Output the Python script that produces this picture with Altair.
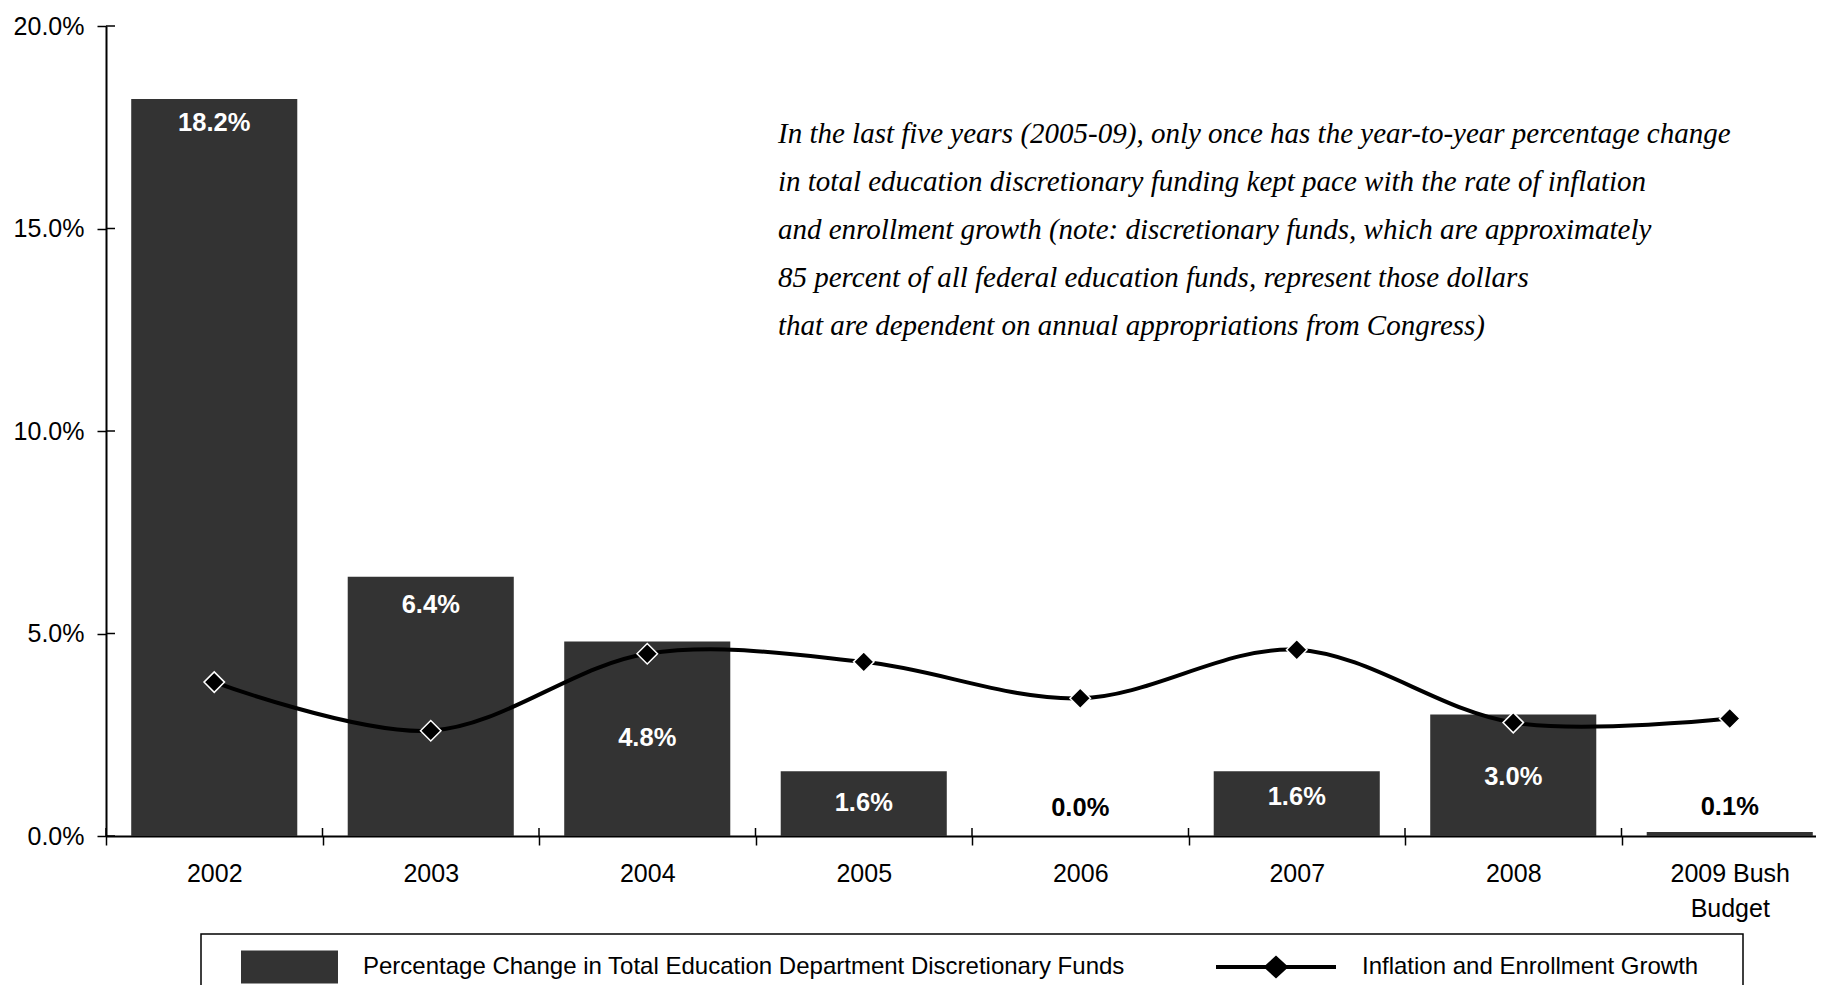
import altair as alt
import pandas as pd

# ---------------- data ----------------
years = ["2002", "2003", "2004", "2005", "2006", "2007", "2008", "2009 Bush Budget"]
funding_change = [18.2, 6.4, 4.8, 1.6, 0.0, 1.6, 3.0, 0.1]
inflation_enrollment = [3.8, 2.6, 4.5, 4.3, 3.4, 4.6, 2.8, 2.9]
label_pos = [17.6, 5.7, 2.42, 0.81, 0.69, 0.96, 1.46, 0.72]
bar_series = "Percentage Change in Total Education Department Discretionary Funds"
line_series = "Inflation and Enrollment Growth"
y_ticks = [0, 5, 10, 15, 20]
note_lines = [
    "In the last five years (2005-09), only once has the year-to-year percentage change",
    "in total education discretionary funding kept pace with the rate of inflation",
    "and enrollment growth (note: discretionary funds, which are approximately",
    "85 percent of all federal education funds, represent those dollars",
    "that are dependent on annual appropriations from Congress)",
]

bars_df = pd.DataFrame({"year": years, "change": funding_change,
                        "label_y": label_pos, "series": bar_series})
line_df = pd.DataFrame({"year": years, "growth": inflation_enrollment,
                        "series": line_series})
tick_df = pd.DataFrame({"tick": y_ticks})
note_df = pd.DataFrame({"note": [note_lines]})

# ---------------- styling ----------------
FONT = "Liberation Sans"
PLOT_W, PLOT_H = 1710, 810
BAND_RANGE = 1732

RECT_PATH = "M-2.939,-1L2.939,-1L2.939,1L-2.939,1Z"
LINE_PATH = ("M-3.636,-0.121L-0.626,-0.121L0,-0.697L0.626,-0.121L3.636,-0.121"
             "L3.636,0.121L0.626,0.121L0,0.697L-0.626,0.121L-3.636,0.121Z")

x_scale = alt.Scale(domain=years, range=[0, BAND_RANGE], paddingInner=0, paddingOuter=0)
y_scale = alt.Scale(domain=[0, 20], nice=False, zero=True)

bar_legend = alt.Legend(
    title=None, orient="none", legendX=135, legendY=924.5, padding=0,
    symbolType=RECT_PATH, symbolSize=1089, symbolStrokeWidth=0, symbolOffset=32,
    symbolFillColor="#333333", symbolOpacity=1,
    labelOffset=57, labelFontSize=24, labelFont=FONT, labelColor="black",
    labelLimit=1500,
)
line_legend = alt.Legend(
    title=None, orient="none", legendX=1110, legendY=924.5, padding=0,
    symbolType=LINE_PATH, symbolSize=1089, symbolStrokeWidth=0, symbolOffset=43.5,
    symbolFillColor="#000000", symbolOpacity=1,
    labelOffset=69.5, labelFontSize=24, labelFont=FONT, labelColor="black",
    labelLimit=1500,
)

x_axis = alt.Axis(
    title=None, tickBand="extent", labelAngle=0, labelPadding=16, tickSize=9,
    tickWidth=1.5, domainWidth=2, labelLineHeight=35, grid=False,
    labelExpr=("indexof(datum.label, ' ') > 0 ? "
               "[substring(datum.label, 0, lastindexof(datum.label, ' ')), "
               "substring(datum.label, lastindexof(datum.label, ' ') + 1)] : datum.label"),
)
y_axis = alt.Axis(
    title=None, values=y_ticks, labelExpr="format(datum.value, '.1f') + '%'",
    tickSize=9, tickWidth=1.5, domainWidth=2, labelPadding=13, grid=False,
)


def X(**kw):
    return alt.X("year:N", scale=x_scale, axis=x_axis, sort=years, **kw)


def Y(field):
    return alt.Y(field, scale=y_scale, axis=y_axis, title=None)


bars = alt.Chart(bars_df).mark_bar(width=alt.RelativeBandSize(0.767)).encode(
    x=X(),
    y=Y("change:Q"),
    fill=alt.Fill("series:N", scale=alt.Scale(domain=[bar_series], range=["#333333"]),
                  legend=bar_legend),
)

bar_labels = alt.Chart(bars_df).transform_calculate(
    txt="format(datum.change, '.1f') + '%'"
).mark_text(font=FONT, fontSize=25.5, fontWeight="bold", baseline="middle", align="center").encode(
    x=X(),
    y=Y("label_y:Q"),
    text="txt:N",
    color=alt.condition("datum.change >= 1", alt.value("white"), alt.value("black")),
)

line = alt.Chart(line_df).mark_line(
    interpolate="catmull-rom", strokeWidth=4, color="black"
).encode(
    x=X(),
    y=Y("growth:Q"),
)

points = alt.Chart(line_df).mark_point(
    shape="diamond", filled=True, size=420, stroke="white",
    strokeWidth=1.5, opacity=1
).encode(
    x=X(),
    y=Y("growth:Q"),
    color=alt.Color("series:N", scale=alt.Scale(domain=[line_series], range=["#000000"]),
                    legend=line_legend),
)

x_stubs = alt.Chart(bars_df).mark_rule(color="black", strokeWidth=1.5).encode(
    x=X(bandPosition=0),
    y=alt.value(PLOT_H - 8), y2=alt.value(PLOT_H),
)

y_stubs = alt.Chart(tick_df).mark_rule(color="black", strokeWidth=1.5).encode(
    y=Y("tick:Q"),
    x=alt.value(0), x2=alt.value(9),
)

legend_box = alt.Chart(note_df).mark_rect(
    fillOpacity=0, stroke="black", strokeWidth=1.5
).encode(
    x=alt.value(95), x2=alt.value(1637), y=alt.value(908), y2=alt.value(1010),
)

note = alt.Chart(note_df).mark_text(
    font="Liberation Serif", fontStyle="italic", fontSize=29, lineHeight=48,
    align="left", baseline="alphabetic", color="black"
).encode(
    text="note",
    x=alt.value(672), y=alt.value(117),
)

chart = alt.layer(bars, line, points, bar_labels, x_stubs, y_stubs, legend_box, note).properties(
    width=PLOT_W, height=PLOT_H,
    autosize=alt.AutoSizeParams(type="none"),
    padding={"left": 98, "top": 18, "right": 0, "bottom": 149},
).resolve_scale(
    fill="independent", color="independent"
).configure_view(stroke=None).configure_axis(
    labelFont=FONT, labelFontSize=25, labelColor="black",
    domainColor="black", tickColor="black", grid=False,
)

chart.save("out.html", embed_options={"renderer": "svg", "actions": False})
